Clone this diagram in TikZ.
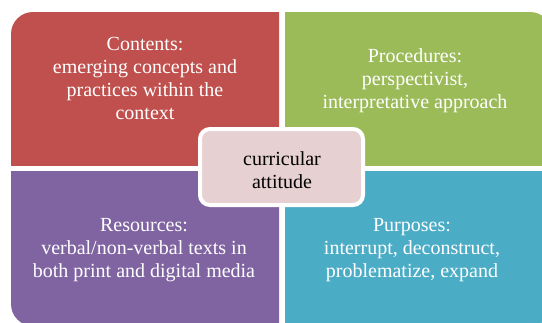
\documentclass[tikz,border=0pt]{standalone}
\usepackage{fontspec}
\setmainfont{Liberation Serif}
\definecolor{qred}{HTML}{C0504D}
\definecolor{qgreen}{HTML}{9BBB59}
\definecolor{qpurple}{HTML}{8064A2}
\definecolor{qblue}{HTML}{4BACC6}
\definecolor{qpink}{HTML}{E7D0D1}
\tikzset{
  qtext/.style={align=center, text=white, font=\fontsize{20}{23}\selectfont, inner sep=0pt},
  bigshape/.style={rounded corners=22pt},
  centerbox/.style={draw=white, line width=4pt, fill=qpink, rounded corners=10pt,
    minimum width=163pt, minimum height=76pt},
  centertext/.style={align=center, text=black, font=\fontsize{20}{23}\selectfont, inner sep=0pt}
}
\begin{document}
\begin{tikzpicture}[x=1pt,y=-1pt]
\useasboundingbox (0,0) rectangle (542,322);
\fill[white] (0,0) rectangle (542,322);
% quadrants: one big rounded rectangle clipped into four parts
\begin{scope}
  \clip (11,12) rectangle (279,165);
  \fill[qred, bigshape] (11,12) rectangle (552,326);
\end{scope}
\begin{scope}
  \clip (285,12) rectangle (552,165);
  \fill[qgreen, bigshape] (11,12) rectangle (552,326);
\end{scope}
\begin{scope}
  \clip (11,171) rectangle (279,326);
  \fill[qpurple, bigshape] (11,12) rectangle (552,326);
\end{scope}
\begin{scope}
  \clip (285,171) rectangle (552,326);
  \fill[qblue, bigshape] (11,12) rectangle (552,326);
\end{scope}
\node[qtext] (contents) at (145,78) {Contents:\\emerging concepts and\\practices within the\\context};
\node[qtext] (procedures) at (415,81) {Procedures:\\perspectivist,\\interpretative approach};
\node[qtext] (resources) at (144,250) {Resources:\\verbal/non-verbal texts in\\both print and digital media};
\node[qtext] (purposes) at (412,250) {Purposes:\\interrupt, deconstruct,\\problematize, expand};
\node[centerbox] (center) at (281.5,167) {};
\node[centertext] (centerlabel) at (282,170) {curricular\\attitude};
\end{tikzpicture}
\end{document}
